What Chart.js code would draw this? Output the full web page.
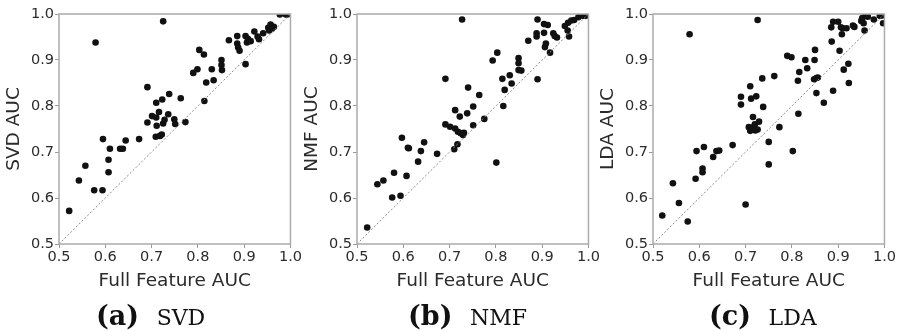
<!DOCTYPE html>
<html>
<head>
<meta charset="utf-8">
<script src="https://cdn.jsdelivr.net/npm/chart.js@4.4.1/dist/chart.umd.min.js"></script>
<style>
  body { margin: 0; background: #fff; width: 899px; height: 331px; position: relative; overflow: hidden; }
  .panel { position: absolute; top: 0; }
  .caption {
    position: absolute; top: 298px; height: 32px; line-height: 32px;
    font-family: 'DejaVu Serif', serif; font-size: 27px; color: #111; white-space: nowrap;
    word-spacing: 9px;
  }
  .caption b { font-weight: bold; }
  .caption span { font-variant-caps: all-small-caps; font-size: 32px; }
</style>
</head>
<body>
<div class="panel" style="left:-1px"><canvas id="svd" width="304" height="300"></canvas></div>
<div class="panel" style="left:297px"><canvas id="nmf" width="304" height="300"></canvas></div>
<div class="panel" style="left:593px"><canvas id="lda" width="304" height="300"></canvas></div>
<div class="caption" style="left:96px"><b>(a)</b> <span>SVD</span></div>
<div class="caption" style="left:408px"><b>(b)</b> <span>NMF</span></div>
<div class="caption" style="left:709px"><b>(c)</b> <span>LDA</span></div>
<script>
// axis ticks shared by every panel
const tickValues = [0.5, 0.6, 0.7, 0.8, 0.9, 1.0];
const diagonal = [0.5, 1.0];

// (a) SVD
const svdFull = [0.522,0.543,0.557,0.576,0.594,0.579,0.595,0.607,0.607,0.610,0.632,0.638,0.644,0.673,0.691,0.691,0.701,0.710,0.711,0.709,0.710,0.716,0.718,0.722,0.723,0.725,0.725,0.728,0.736,0.738,0.749,0.751,0.763,0.773,0.790,0.799,0.803,0.813,0.814,0.818,0.830,0.834,0.851,0.851,0.852,0.867,0.885,0.885,0.887,0.903,0.903,0.906,0.908,0.914,0.922,0.929,0.941,0.952,0.957,0.964,0.977,0.990,0.993,0.954,0.890,0.932,0.960];
const svdAuc  = [0.572,0.638,0.670,0.617,0.617,0.938,0.728,0.683,0.656,0.707,0.707,0.707,0.725,0.728,0.764,0.841,0.778,0.807,0.757,0.733,0.775,0.787,0.735,0.738,0.814,0.984,0.762,0.770,0.782,0.826,0.771,0.761,0.817,0.765,0.872,0.880,0.922,0.912,0.811,0.851,0.880,0.856,0.900,0.889,0.878,0.943,0.952,0.936,0.927,0.891,0.952,0.938,0.946,0.941,0.962,0.951,0.958,0.970,0.977,0.972,0.999,0.999,0.999,0.964,0.920,0.945,0.968];

// (b) NMF
const nmfFull = [0.522,0.544,0.557,0.576,0.580,0.594,0.597,0.607,0.610,0.612,0.632,0.638,0.645,0.673,0.691,0.691,0.701,0.710,0.712,0.712,0.717,0.718,0.722,0.724,0.727,0.729,0.731,0.738,0.740,0.751,0.751,0.764,0.775,0.793,0.803,0.801,0.814,0.816,0.819,0.830,0.834,0.849,0.849,0.849,0.855,0.870,0.888,0.888,0.890,0.890,0.904,0.904,0.908,0.906,0.912,0.917,0.924,0.927,0.932,0.949,0.955,0.958,0.956,0.963,0.969,0.978,0.988,0.994,0.997];
const nmfAuc  = [0.536,0.630,0.638,0.601,0.655,0.605,0.731,0.648,0.709,0.708,0.679,0.702,0.721,0.696,0.859,0.760,0.755,0.706,0.791,0.751,0.717,0.744,0.777,0.741,0.988,0.737,0.742,0.784,0.840,0.799,0.758,0.824,0.772,0.899,0.916,0.677,0.859,0.800,0.835,0.867,0.849,0.904,0.893,0.878,0.877,0.942,0.958,0.951,0.858,0.988,0.959,0.978,0.936,0.928,0.976,0.916,0.958,0.952,0.949,0.974,0.964,0.951,0.981,0.986,0.987,0.993,0.996,0.996,0.998];

// (c) LDA
const ldaFull = [0.520,0.543,0.556,0.575,0.579,0.592,0.594,0.607,0.607,0.610,0.630,0.637,0.643,0.672,0.690,0.690,0.700,0.710,0.712,0.707,0.710,0.716,0.717,0.720,0.721,0.723,0.726,0.726,0.729,0.736,0.738,0.750,0.750,0.762,0.773,0.790,0.799,0.802,0.813,0.816,0.814,0.829,0.833,0.850,0.849,0.848,0.853,0.856,0.853,0.869,0.885,0.886,0.889,0.889,0.900,0.903,0.906,0.908,0.910,0.912,0.918,0.922,0.923,0.932,0.935,0.950,0.952,0.955,0.957,0.959,0.964,0.977,0.990,0.995,0.997];
const ldaAuc  = [0.562,0.632,0.589,0.549,0.956,0.642,0.702,0.664,0.656,0.711,0.689,0.702,0.703,0.715,0.803,0.820,0.586,0.843,0.816,0.754,0.746,0.776,0.754,0.760,0.747,0.821,0.987,0.749,0.766,0.860,0.798,0.722,0.673,0.865,0.754,0.909,0.906,0.702,0.855,0.874,0.783,0.900,0.882,0.922,0.900,0.858,0.861,0.862,0.828,0.807,0.971,0.940,0.983,0.833,0.983,0.920,0.971,0.956,0.969,0.879,0.969,0.892,0.850,0.975,0.972,0.985,0.991,0.980,0.964,0.996,0.994,0.988,0.996,0.997,0.980];

const boxPlugin = {
  id: 'box',
  afterDraw(chart) {
    const a = chart.chartArea, ctx = chart.ctx;
    ctx.save();
    ctx.strokeStyle = '#ababab';
    ctx.lineWidth = 1.5;
    ctx.strokeRect(a.left, a.top, a.right - a.left, a.bottom - a.top);
    ctx.restore();
  }
};

function axis(title, isX) {
  return {
    type: 'linear',
    min: 0.5,
    max: 1.0,
    afterBuildTicks: (s) => { s.ticks = tickValues.map(v => ({ value: v })); },
    afterFit: (s) => { if (isX) s.height = 56; else s.width = 60; },
    grid: { drawOnChartArea: false, drawTicks: true, tickLength: 4, color: '#999' },
    border: { display: false },
    ticks: {
      padding: 1,
      color: '#2b2b2b',
      font: { family: 'DejaVu Sans', size: 14.5 },
      callback: (v) => v.toFixed(1),
    },
    title: {
      display: true,
      text: title,
      color: '#2b2b2b',
      font: { family: 'DejaVu Sans', size: 18.5 },
      padding: isX ? { top: 0, bottom: 8 } : { top: 4, bottom: 0 },
    },
  };
}

function makeChart(id, xs, ys, yTitle) {
  new Chart(document.getElementById(id), {
    type: 'scatter',
    data: {
      datasets: [
        {
          type: 'line',
          data: diagonal.map(v => ({ x: v, y: v })),
          borderColor: '#8a8a8a',
          borderWidth: 1,
          borderDash: [2, 2],
          pointRadius: 0,
        },
        {
          data: xs.map((x, i) => ({ x: x, y: ys[i] })),
          backgroundColor: '#111',
          borderWidth: 0,
          pointRadius: 3.3,
        },
      ],
    },
    options: {
      responsive: false,
      animation: false,
      devicePixelRatio: 1,
      layout: { padding: { top: 14, right: 12, bottom: 0, left: 0 } },
      scales: {
        x: axis('Full Feature AUC', true),
        y: axis(yTitle, false),
      },
      plugins: { legend: { display: false }, tooltip: { enabled: false } },
    },
    plugins: [boxPlugin],
  });
}

makeChart('svd', svdFull, svdAuc, 'SVD AUC');
makeChart('nmf', nmfFull, nmfAuc, 'NMF AUC');
makeChart('lda', ldaFull, ldaAuc, 'LDA AUC');
</script>
</body>
</html>
